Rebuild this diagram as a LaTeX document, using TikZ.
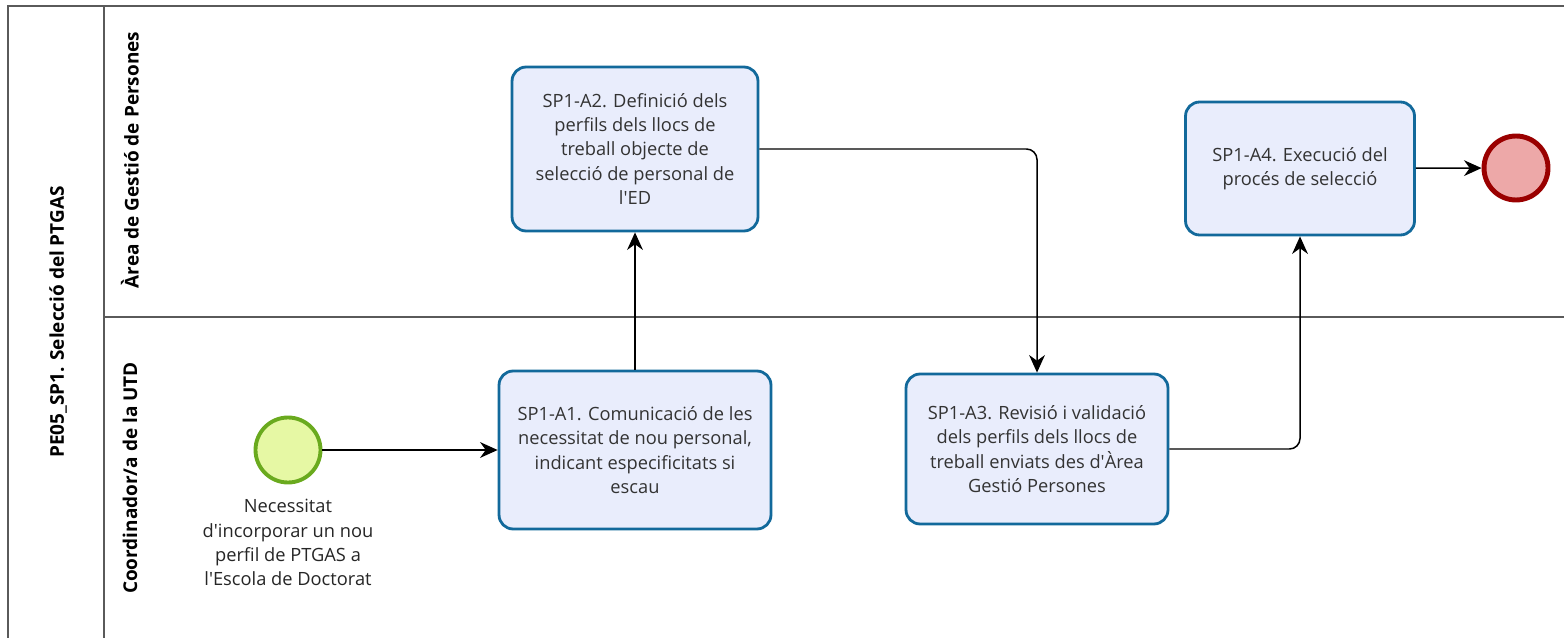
\documentclass[tikz,border=0pt]{standalone}
\usepackage{fontspec}
\setmainfont{Open Sans}
\usetikzlibrary{positioning}
\usetikzlibrary{arrows.meta}
\usetikzlibrary{calc}

\definecolor{taskline}{HTML}{12699B}
\definecolor{taskfill}{HTML}{E9EDFC}
\definecolor{startline}{HTML}{6AAA1E}
\definecolor{startfill}{HTML}{E6F8A4}
\definecolor{endline}{HTML}{9A0000}
\definecolor{endfill}{HTML}{EDA8A8}
\definecolor{poolline}{HTML}{5A5A5A}

\tikzset{
    task/.style={draw=taskline, fill=taskfill, line width=1.6pt, rounded corners=8pt,
        align=center, text=black!80, font=\fontsize{10.4}{13.8}\selectfont},
    startevent/.style={circle, draw=startline, fill=startfill, line width=2.2pt, minimum size=1.3cm},
    endevent/.style={circle, draw=endline, fill=endfill, line width=2.8pt, minimum size=1.28cm},
    lanelabel/.style={rotate=90, font=\fontsize{10.8}{12}\selectfont\bfseries},
    flow/.style={draw=black, line width=0.85pt, -{Stealth[length=10pt, width=9pt]}},
    poolborder/.style={draw=poolline, line width=1pt}
}

\begin{document}
\begin{tikzpicture}[x=0.02cm, y=-0.02cm]
        \useasboundingbox[fill=white] (0,0) rectangle (1564,638);
        \draw[poolborder] (1564,6) -- (8,6) -- (8,638);
        \draw[poolborder] (104,6) -- (104,638);
        \draw[poolborder] (104,317) -- (1564,317);

        \node[lanelabel] (pool) at (58,322) {PE05\_SP1. Selecció del PTGAS};
        \node[lanelabel] (gestio) at (130,160) {Àrea de Gestió de Persones};
        \node[lanelabel] (utd) at (130,478) {Coordinador/a de la UTD};

        \node[startevent] (start) at (288,450) {};
        \node[below=5pt of start, align=center, text=black!85, font=\fontsize{10.4}{13.8}\selectfont] (startlbl)
            {Necessitat\\d\textquotesingle incorporar un nou\\perfil de PTGAS a\\l\textquotesingle Escola de Doctorat};

        \node[task, minimum width=5.44cm, minimum height=3.16cm] (a1) at (635,450)
            {SP1-A1. Comunicació de les\\necessitat de nou personal,\\indicant especificitats si\\escau};
        \node[task, minimum width=4.92cm, minimum height=3.28cm] (a2) at (635,149)
            {SP1-A2. Definició dels\\perfils dels llocs de\\treball objecte de\\selecció de personal de\\l\textquotesingle ED};
        \node[task, minimum width=5.24cm, minimum height=3.0cm] (a3) at (1037,449)
            {SP1-A3. Revisió i validació\\dels perfils dels llocs de\\treball enviats des d\textquotesingle Àrea\\Gestió Persones};
        \node[task, minimum width=4.58cm, minimum height=2.66cm] (a4) at (1300,168.5)
            {SP1-A4. Execució del\\procés de selecció};

        \node[endevent] (end) at (1516,168) {};

        \draw[flow] (start) -- (a1);
        \draw[flow] (a1) -- (a2);
        \draw[flow, rounded corners=6pt] (a2.east) -| (a3.north);
        \draw[flow, rounded corners=6pt] (a3.east) -| (a4.south);
        \draw[flow] (a4) -- (end);
\end{tikzpicture}
\end{document}
